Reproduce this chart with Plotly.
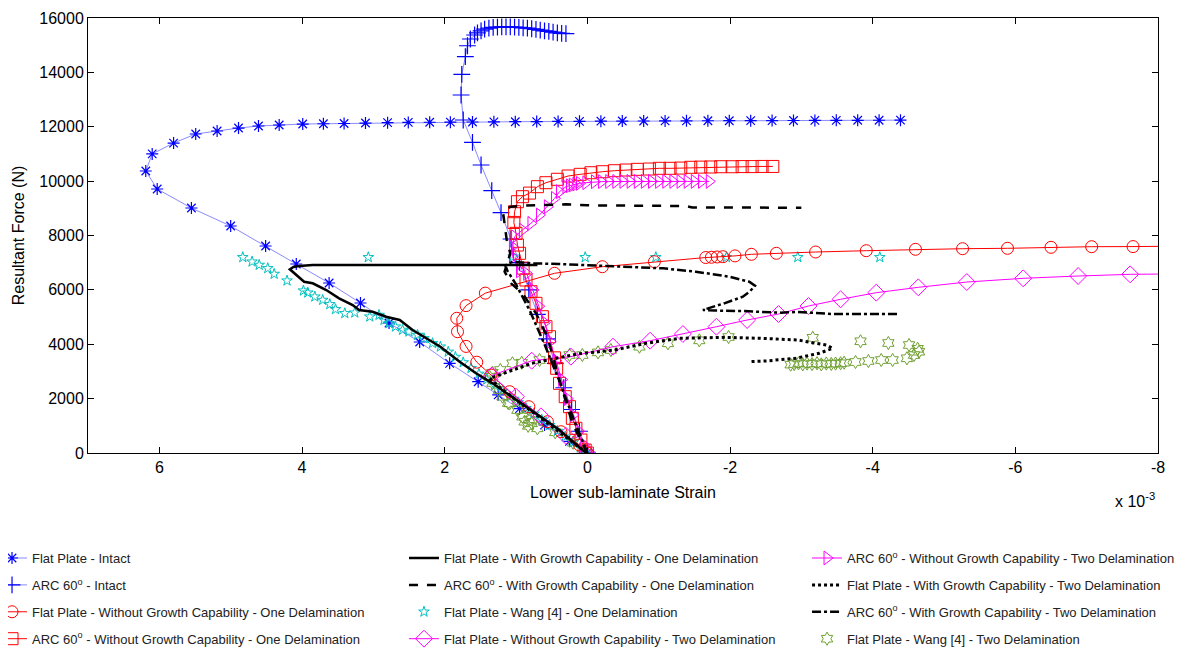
import plotly.graph_objects as go

# ---------------- data (strain in units of 1e-3, force in N) ----------------
fp_intact_x = [0, 0.25, 0.6, 0.95, 1.25, 1.53, 1.93, 2.35, 2.78, 3.18, 3.62, 4.08, 4.51, 5.00, 5.55, 6.03, 6.19,
               6.10, 5.80, 5.49, 5.19, 4.89, 4.61, 4.32, 3.99, 3.70, 3.41, 3.11, 2.80, 2.51, 2.21, 1.92, 1.61,
               1.31, 1.01, 0.71, 0.41, 0.11, -0.19, -0.49, -0.79, -1.09, -1.39, -1.69, -1.99, -2.29, -2.59,
               -2.89, -3.19, -3.49, -3.79, -4.09, -4.39]
fp_intact_y = [0, 430, 1030, 1630, 2140, 2622, 3299, 4083, 4781, 5517, 6253, 6951, 7613, 8349, 9011, 9710, 10372,
               11000, 11400, 11733, 11843, 11953, 12027, 12064, 12100, 12110, 12120, 12137, 12150, 12160, 12165,
               12170, 12175, 12180, 12185, 12190, 12195, 12200, 12205, 12210, 12212, 12215, 12218, 12220, 12222,
               12225, 12228, 12230, 12232, 12235, 12238, 12240, 12242]

arc_intact_x = [0, 0.11, 0.22, 0.33, 0.45, 0.57, 0.70, 0.82, 0.95, 1.07, 1.21, 1.34, 1.49, 1.61, 1.74, 1.77, 1.76,
                1.71, 1.68, 1.64, 1.58, 1.54, 1.49, 1.44, 1.38, 1.32, 1.26, 1.20, 1.14, 1.08, 1.02, 0.96, 0.90,
                0.84, 0.78, 0.72, 0.66, 0.60, 0.54, 0.48, 0.42, 0.36, 0.30]
arc_intact_y = [0, 800, 1600, 2400, 3300, 4200, 5100, 6000, 7000, 7871, 8838, 9648, 10593, 11427, 12248, 13167, 13929,
                14576, 14980, 15227, 15374, 15450, 15530, 15590, 15630, 15655, 15668, 15672, 15672, 15670, 15665,
                15655, 15640, 15625, 15605, 15580, 15555, 15530, 15505, 15480, 15455, 15435, 15425]

fp_nogrowth1_x = [0, 0.11, 0.37, 0.56, 0.82, 1.09, 1.35, 1.55, 1.70, 1.82, 1.83, 1.70, 1.43, 0.46, -0.21, -0.94,
                  -1.66, -1.74, -1.82, -1.90, -2.07, -2.30, -2.65, -3.20, -3.91, -4.60, -5.26, -5.89, -6.50, -7.07,
                  -7.65, -8.40]
fp_nogrowth1_y = [0, 294, 783, 1151, 1703, 2255, 2869, 3340, 3920, 4462, 4954, 5420, 5880, 6610, 6852, 7036,
                  7190, 7200, 7210, 7220, 7250, 7308, 7345, 7393, 7441, 7492, 7514, 7529, 7566, 7588,
                  7592, 7610]

arc_nogrowth1_x = [0, 0.03, 0.09, 0.16, 0.21, 0.25, 0.31, 0.39, 0.43, 0.46, 0.53, 0.58, 0.63, 0.72, 0.79, 0.86,
                   0.90, 0.95, 0.98, 1.00, 1.03, 1.02, 0.98, 0.91, 0.81, 0.70, 0.58, 0.42, 0.27, 0.10, -0.05,
                   -0.21, -0.38, -0.54, -0.70, -0.87, -1.01, -1.16, -1.31, -1.45, -1.59, -1.73, -1.87, -2.03,
                   -2.17, -2.31, -2.45, -2.60]
arc_nogrowth1_y = [0, 110, 478, 908, 1276, 1703, 2071, 2563, 3115, 3500, 4277, 4645, 5013, 5506, 5932, 6363,
                   6800, 7345, 7650, 8080, 8480, 8875, 9243, 9427, 9560, 9795, 9942, 10067, 10188, 10250, 10309,
                   10346, 10383, 10409, 10434, 10445, 10471, 10471, 10480, 10508, 10515, 10520, 10530, 10530,
                   10535, 10535, 10540, 10540]

fp_growth1_x = [0, 0.07, 0.39, 0.86, 1.33, 1.56, 1.79, 2.06, 2.26, 2.45, 2.63, 2.82, 3.01, 3.20, 3.29, 3.48, 3.66,
                3.85, 3.97, 4.08, 4.17, 4.12, 4.04, 3.85, 3.0, 2.0, 1.0, 0.70]
fp_growth1_y = [0, 110, 846, 1703, 2563, 2931, 3358, 3910, 4218, 4524, 4892, 5013, 5197, 5260, 5443, 5690, 5995,
                6241, 6300, 6547, 6757, 6840, 6880, 6915, 6915, 6915, 6915, 6915]

arc_growth1_x = [0, 0.10, 0.21, 0.39, 0.56, 0.72, 0.91, 1.07, 1.16, 1.12, 1.08, 1.13, 1.16, 1.18, 1.16, 1.07, 0.91,
                 0.60, 0.30, 0.0, -0.5, -1.0, -1.38, -1.47, -2.0, -2.5, -3.0]
arc_growth1_y = [0, 500, 1092, 2685, 4277, 5138, 5874, 6241, 6668, 7000, 7345, 7834, 8324, 8816, 8938, 9059, 9096,
                 9110, 9147, 9110, 9096, 9090, 9084, 9030, 9023, 9023, 9023]

fp_wang1_x = [4.83, 4.70, 4.60, 4.48, 4.39, 4.21, 3.98, 3.92, 3.82, 3.71, 3.61, 3.53, 3.40, 3.26, 3.05, 2.92, 2.85,
              2.78, 2.69, 2.59, 2.50, 2.38, 2.29, 2.17, 2.06, 1.95, 1.85, 1.74, 1.63, 1.52, 1.41, 1.30, 1.19, 1.08,
              0.97, 0.86, 0.75, 0.64, 0.53, 0.42, 0.31, 0.20, 0.10, 0.02, 3.07, 1.04, 0.03, -0.96, -1.95, -2.95,
              -4.10]
fp_wang1_y = [7198, 7036, 6915, 6793, 6584, 6338, 5970, 5896, 5749, 5627, 5469, 5285, 5138, 5160, 5013, 5075, 4892,
              4770, 4645, 4524, 4462, 4340, 4218, 4035, 3910, 3720, 3530, 3330, 3120, 2910, 2700, 2490, 2280, 2070,
              1860, 1650, 1440, 1230, 1020, 810, 600, 390, 190, 40, 7198, 7220, 7198, 7198, 7198, 7198,
              7198]

fp_nogrowth2_x = [0, 0.3, 0.65, 1.0, 1.34, 0.78, 0.23, -0.36, -0.88, -1.34, -1.81, -2.24, -2.68, -3.10, -3.55,
                  -4.05, -4.64, -5.32, -6.11, -6.88, -7.61, -8.40]
fp_nogrowth2_y = [0, 630, 1350, 2070, 2850, 3395, 3542, 3910, 4130, 4377, 4645, 4892, 5112, 5407, 5653,
                  5896, 6094, 6289, 6425, 6510, 6572, 6590]

arc_nogrowth2_x = [0, 0.05, 0.12, 0.20, 0.28, 0.36, 0.44, 0.52, 0.60, 0.68, 0.76, 0.85, 0.95, 1.05, 1.05, 1.02,
                   0.91, 0.79, 0.67, 0.56, 0.46, 0.39, 0.30, 0.25, 0.21, 0.16, 0.11, 0.02, -0.10, -0.20, -0.30,
                   -0.40, -0.50, -0.60, -0.70, -0.80, -0.90, -1.00, -1.10, -1.20, -1.30, -1.40, -1.50, -1.60,
                   -1.71]
arc_nogrowth2_y = [0, 300, 800, 1400, 2000, 2700, 3400, 4100, 4800, 5400, 6000, 6600, 6700, 7220, 7590, 7956,
                   8202, 8448, 8754, 9059, 9366, 9611, 9795, 9830, 9857, 9890, 9919, 9942, 9979, 9982, 9985,
                   9988, 9990, 9990, 9990, 9990, 9990, 9990, 9990, 9990, 9990, 9990, 9990, 9990,
                   9990]

fp_growth2_x = [0, 0.35, 0.7, 1.0, 1.2, 1.37, 0.78, 0.50, 0.14, -0.38, -0.82, -1.29, -1.54, -1.94, -2.44, -2.95,
                -3.16, -3.35, -3.44, -3.25, -2.92, -2.50, -2.27]
fp_growth2_y = [0, 680, 1360, 1950, 2350, 2747, 3299, 3450, 3641, 3788, 4035, 4218, 4240, 4255, 4218, 4156,
                4057, 3972, 3851, 3667, 3483, 3384, 3358]

arc_growth2_x = [0, 0.2, 0.4, 0.6, 0.8, 1.0, 1.12, 1.15, 1.05, 0.77, 0.40, 0.11, -0.36, -1.06, -1.52, -1.99,
                 -2.27, -2.35, -2.28, -2.18, -1.92, -1.67, -1.62, -1.79, -2.20, -2.69, -2.95, -3.44, -3.90, -4.37]
arc_growth2_y = [0, 1300, 2700, 4000, 5200, 6200, 6700, 6900, 7036, 6975, 6950, 6915, 6878, 6793, 6668, 6485,
                 6300, 6150, 5950, 5749, 5506, 5300, 5260, 5240, 5220, 5160, 5190, 5112, 5112, 5112]

fp_wang2_x = [0.0, 0.2, 0.45, 0.70, 0.78, 0.81, 0.83, 0.88, 0.91, 0.98, 1.09, 1.11, 1.19, 1.24, 1.33, 1.37, 1.33,
              1.22, 1.05, 0.92, 0.67, 0.25, 0.07, -0.15, -0.33, -0.73, -1.13, -1.57, -1.98, -3.16, -3.83, -4.22,
              -4.51, -4.63, -4.65, -4.58, -4.48, -4.28, -4.12, -3.94, -3.76, -3.60, -3.55, -3.48, -3.42, -3.35,
              -3.28, -3.22, -3.15, -3.08, -3.02, -2.96, -2.90, -2.85]
fp_wang2_y = [0, 380, 760, 908, 1092, 1214, 1000, 1150, 1335, 1580, 1826, 1840, 2071, 2317, 2575, 2800, 2953,
              3053, 3299, 3321, 3420, 3604, 3604, 3700, 3788, 3910, 4035, 4143, 4266, 4237, 4110, 4046,
              3972, 3832, 3726, 3604, 3483, 3420, 3420, 3384, 3347, 3322, 3300, 3290, 3275, 3290,
              3260, 3300, 3270, 3290, 3260, 3300, 3270, 3250]

x_ticks = [6, 4, 2, 0, -2, -4, -6, -8]
y_ticks = [0, 2000, 4000, 6000, 8000, 10000, 12000, 14000, 16000]

BLUE = "#0000FF"
BLUE_LINE = "rgba(60,60,255,0.6)"
RED = "#FF0000"
MAG = "#FF00FF"
CYAN = "#00BFBF"
GREEN = "#6FA030"

fig = go.Figure()


def add(x, y, name, legend, rank, mode, line=None, marker=None):
    fig.add_trace(go.Scatter(x=x, y=y, name=name, mode=mode, line=line, marker=marker,
                             legend=legend, legendrank=rank, legendgroup=name))


add(fp_intact_x, fp_intact_y, "Flat Plate - Intact", "legend", 1, "lines+markers",
    line=dict(color=BLUE_LINE, width=1),
    marker=dict(symbol="asterisk-open", size=10, line=dict(color=BLUE, width=1.2), color=BLUE))
add(arc_intact_x, arc_intact_y, "ARC 60<sup>o</sup> - Intact", "legend", 2, "lines+markers",
    line=dict(color=BLUE_LINE, width=1),
    marker=dict(symbol="cross-thin-open", size=12, line=dict(color=BLUE, width=1.2), color=BLUE))
add(fp_wang1_x, fp_wang1_y, "Flat Plate - Wang [4] - One Delamination", "legend2", 3, "markers",
    marker=dict(symbol="star-open", size=8, line=dict(color=CYAN, width=1), color=CYAN))
add(fp_wang2_x, fp_wang2_y, "Flat Plate - Wang [4] - Two Delamination", "legend3", 4, "markers",
    marker=dict(symbol="hexagram-open", size=10, line=dict(color=GREEN, width=1), color=GREEN))
add(fp_nogrowth1_x, fp_nogrowth1_y, "Flat Plate - Without Growth Capability - One Delamination", "legend", 3,
    "lines+markers", line=dict(color=RED, width=1),
    marker=dict(symbol="circle-open", size=12, line=dict(color=RED, width=1), color=RED))
add(fp_nogrowth2_x, fp_nogrowth2_y, "Flat Plate - Without Growth Capability - Two Delamination", "legend2", 4,
    "lines+markers", line=dict(color=MAG, width=1),
    marker=dict(symbol="diamond-open", size=13, line=dict(color=MAG, width=1), color=MAG))
add(arc_nogrowth1_x, arc_nogrowth1_y, "ARC 60<sup>o</sup> - Without Growth Capability - One Delamination", "legend", 4,
    "lines+markers", line=dict(color=RED, width=1),
    marker=dict(symbol="square-open", size=12, line=dict(color=RED, width=1), color=RED))
add(arc_nogrowth2_x, arc_nogrowth2_y, "ARC 60<sup>o</sup> - Without Growth Capability - Two Delamination", "legend3", 1,
    "lines+markers", line=dict(color=MAG, width=1),
    marker=dict(symbol="triangle-right-open", size=12, line=dict(color=MAG, width=1), color=MAG))
add(fp_growth1_x, fp_growth1_y, "Flat Plate - With Growth Capability - One Delamination", "legend2", 1, "lines",
    line=dict(color="black", width=2.5))
add(arc_growth1_x, arc_growth1_y, "ARC 60<sup>o</sup> - With Growth Capability - One Delamination", "legend2", 2,
    "lines", line=dict(color="black", width=2.5, dash="dash"))
add(fp_growth2_x, fp_growth2_y, "Flat Plate - With Growth Capability - Two Delamination", "legend3", 2, "lines",
    line=dict(color="black", width=3, dash="dot"))
add(arc_growth2_x, arc_growth2_y, "ARC 60<sup>o</sup> - With Growth Capability - Two Delamination", "legend3", 3,
    "lines", line=dict(color="black", width=2.5, dash="dashdot"))

AX_FONT = dict(family="Liberation Sans, Arial, sans-serif", size=16, color="black")
LEG_FONT = dict(family="Liberation Sans, Arial, sans-serif", size=13, color="#222")

fig.update_xaxes(range=[7, -8], tickvals=x_ticks, ticktext=[str(v) for v in x_ticks],
                 showgrid=False, zeroline=False, showline=True, linecolor="black", linewidth=1,
                 mirror="ticks", ticks="inside", ticklen=6, tickcolor="black", tickfont=AX_FONT,
                 automargin=False,
                 title=dict(text="Lower sub-laminate Strain", font=AX_FONT, standoff=11))
fig.update_yaxes(range=[0, 16000], tickvals=y_ticks, ticktext=[str(v) for v in y_ticks],
                 showgrid=False, zeroline=False, showline=True,
                 linecolor="black", linewidth=1, mirror="ticks", ticks="inside", ticklen=6, tickcolor="black",
                 tickfont=AX_FONT, automargin=False,
                 title=dict(text="Resultant Force (N)", font=AX_FONT, standoff=10))

leg_common = dict(orientation="v", xanchor="left", yanchor="top", bgcolor="rgba(0,0,0,0)",
                  font=LEG_FONT, tracegroupgap=7, itemwidth=30)
fig.update_layout(
    width=1184, height=645,
    margin=dict(l=80, r=34, t=10, b=200, autoexpand=False),
    paper_bgcolor="white", plot_bgcolor="white",
    legend=dict(x=-0.0897, y=-0.207, **leg_common),
    legend2=dict(x=0.2953, y=-0.207, **leg_common),
    legend3=dict(x=0.6720, y=-0.207, **leg_common),
    annotations=[dict(text="x 10<sup>-3</sup>", xref="paper", yref="paper", x=0.958, y=-0.108,
                      xanchor="left", yanchor="middle", showarrow=False, font=AX_FONT)],
)

fig.write_html("out.html")
